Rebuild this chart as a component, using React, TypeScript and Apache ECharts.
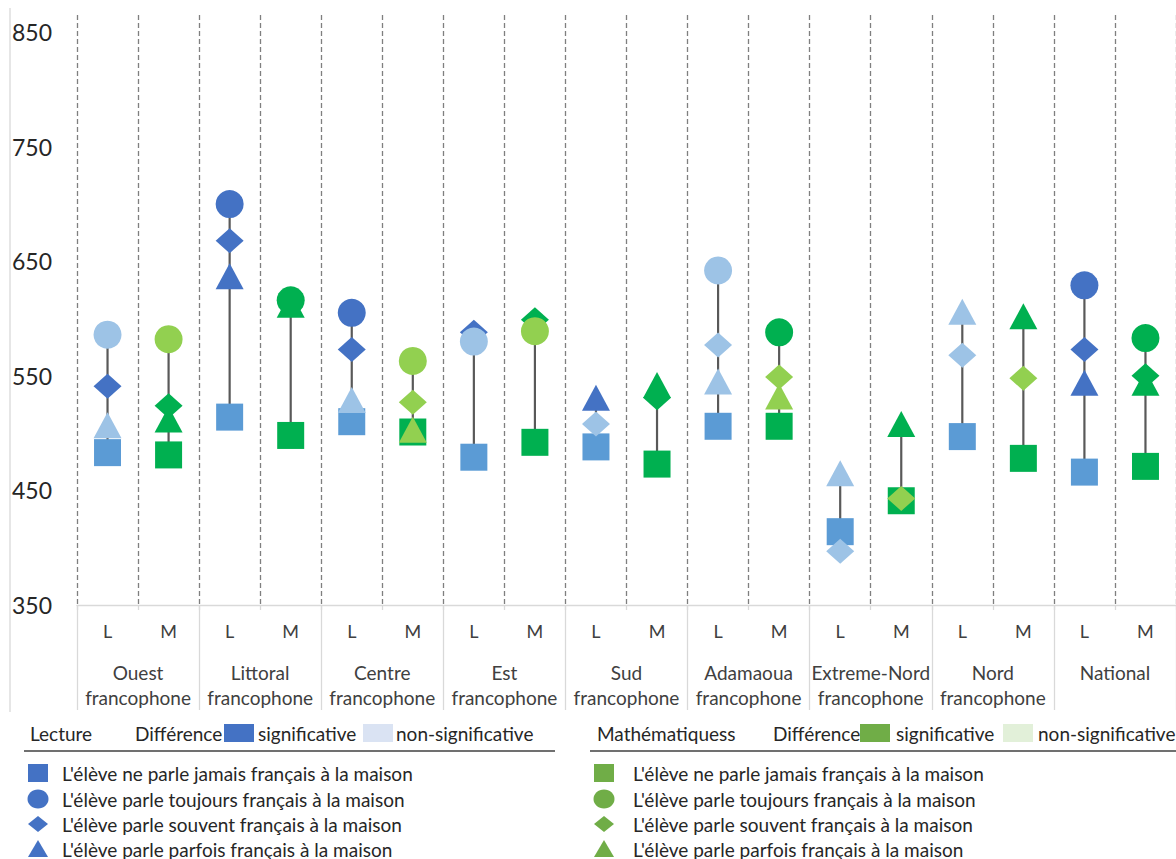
import React, { useEffect, useRef } from "react";
import * as echarts from "echarts";

// ---- data ----
const categories = ["L", "M", "L", "M", "L", "M", "L", "M", "L", "M", "L", "M", "L", "M", "L", "M", "L", "M"];
const regions = [
  "Ouest\nfrancophone",
  "Littoral\nfrancophone",
  "Centre\nfrancophone",
  "Est\nfrancophone",
  "Sud\nfrancophone",
  "Adamaoua\nfrancophone",
  "Extreme-Nord\nfrancophone",
  "Nord\nfrancophone",
  "National",
];
const yMin = 350;
const yInterval = 100;

// L'élève ne parle jamais français à la maison (reference group, square)
const jamais = [483, 481, 514, 498, 510, 501, 479, 492, 488, 473, 506, 506, 414, 441, 497, 478, 466, 471];
// L'élève parle toujours français à la maison (circle)
const toujours = [586, 582, 700, 616, 605, 563, 580, 589, null, null, 642, 588, null, null, null, null, 629, 583];
const toujoursSig = [false, false, true, true, true, false, false, false, null, null, false, true, null, null, null, null, true, true];
// L'élève parle souvent français à la maison (diamond)
const souvent = [541, 524, 668, null, 573, 527, 588, 599, 508, 531, 577, 549, 397, 443, 568, 548, 573, 550];
const souventSig = [true, true, true, null, true, false, true, true, false, true, false, false, false, false, false, false, true, true];
// L'élève parle parfois français à la maison (triangle)
const parfois = [507, 512, 637, 612, 529, 503, null, null, 531, 542, 545, 532, 465, 508, 606, 602, 544, 544];
const parfoisSig = [false, true, true, true, false, false, null, null, true, true, false, false, false, true, false, true, true, true];

const legendLabels = [
  "L'élève ne parle jamais français à la maison",
  "L'élève parle toujours français à la maison",
  "L'élève parle souvent français à la maison",
  "L'élève parle parfois français à la maison",
];

// ---- colours ----
const LECT_REF = "#5B9BD5";
const LECT_SIG = "#4472C4";
const LECT_NS = "#9DC3E6";
const MATH_REF = "#00B050";
const MATH_SIG = "#00B050";
const MATH_NS = "#92D050";
const FONT = "Lato";

function colorFor(i: number, sig: boolean | null) {
  const isL = i % 2 === 0;
  if (isL) return sig ? LECT_SIG : LECT_NS;
  return sig ? MATH_SIG : MATH_NS;
}

function buildScatter(values: (number | null)[], sig: (boolean | null)[] | null) {
  const out: any[] = [];
  values.forEach((v, i) => {
    if (v == null) return;
    const color = sig ? colorFor(i, sig[i]) : i % 2 === 0 ? LECT_REF : MATH_REF;
    out.push({ value: [i, v], itemStyle: { color, opacity: 1 } });
  });
  return out;
}

function legendBlock(x0: number, title: string, sigColor: string, nsColor: string, symColor: string, offs: any) {
  const els: any[] = [];
  const hy = 733;
  const txt = (x: number, y: number, t: string) => ({
    type: "text",
    x,
    y,
    style: { text: t, fontSize: 19, fontFamily: FONT, fill: "#262626", verticalAlign: "middle" },
  });
  els.push(txt(x0 + offs.title, hy, title));
  els.push(txt(x0 + offs.diff, hy, "Différence"));
  els.push({ type: "rect", shape: { x: x0 + offs.box1, y: hy - 9, width: 30, height: 18 }, style: { fill: sigColor } });
  els.push(txt(x0 + offs.sig, hy, "significative"));
  els.push({ type: "rect", shape: { x: x0 + offs.box2, y: hy - 9, width: 30, height: 18 }, style: { fill: nsColor } });
  els.push(txt(x0 + offs.ns, hy, "non-significative"));
  els.push({
    type: "line",
    shape: { x1: x0 + offs.lineStart, y1: 751, x2: x0 + offs.lineEnd, y2: 751 },
    style: { stroke: "#404040", lineWidth: 1.5 },
  });
  const rows = [773, 799, 824, 849];
  const sx = x0 + offs.sym;
  // square
  els.push({ type: "rect", shape: { x: sx - 10, y: rows[0] - 9, width: 20, height: 18 }, style: { fill: symColor } });
  // circle
  els.push({ type: "ellipse", shape: { cx: sx, cy: rows[1], rx: 10.5, ry: 9.5 }, style: { fill: symColor } });
  // diamond
  els.push({
    type: "polygon",
    shape: { points: [[sx, rows[2] - 8], [sx + 10, rows[2]], [sx, rows[2] + 8], [sx - 10, rows[2]]] },
    style: { fill: symColor },
  });
  // triangle
  els.push({
    type: "polygon",
    shape: { points: [[sx, rows[3] - 9], [sx + 10, rows[3] + 8], [sx - 10, rows[3] + 8]] },
    style: { fill: symColor },
  });
  legendLabels.forEach((t, k) => els.push(txt(x0 + offs.text, rows[k], t)));
  return els;
}

export default function App() {
  const ref = useRef<HTMLDivElement>(null);
  useEffect(() => {
    document.body.style.margin = "0";
    const chart = echarts.init(ref.current!, null, { renderer: "svg" });

    const ranges = categories.map((_, i) => {
      const vals = [jamais[i], toujours[i], souvent[i], parfois[i]].filter((v) => v != null) as number[];
      return [i, Math.min(...vals), Math.max(...vals)];
    });

    const option: any = {
      animation: false,
      backgroundColor: "#ffffff",
      grid: { left: 77, top: 15, width: 1102, height: 590, containLabel: false },
      xAxis: [
        {
          type: "category",
          data: categories,
          boundaryGap: true,
          position: "bottom",
          axisLine: { show: true, lineStyle: { color: "#d9d9d9", width: 1.3 } },
          axisTick: { show: true, interval: 0, length: 5, lineStyle: { color: "#d9d9d9", width: 1.3 } },
          axisLabel: { interval: 0, margin: 17, fontSize: 18, fontFamily: FONT, color: "#404040" },
          splitLine: { show: true, interval: 0, lineStyle: { color: "#7f7f7f", type: [5, 3], width: 1.3 } },
        },
        {
          type: "category",
          data: regions,
          boundaryGap: true,
          position: "bottom",
          axisLine: { show: false },
          axisTick: { show: true, interval: 0, length: 105, lineStyle: { color: "#d9d9d9", width: 1.3 } },
          axisLabel: { interval: 0, margin: 55, fontSize: 19, lineHeight: 25, fontFamily: FONT, color: "#404040" },
          splitLine: { show: false },
        },
      ],
      yAxis: {
        type: "value",
        min: yMin,
        max: 865,
        interval: yInterval,
        axisLine: { show: false },
        axisTick: { show: false },
        splitLine: { show: false },
        axisLabel: { align: "left", margin: 65, fontSize: 23, fontFamily: FONT, color: "#262626", showMaxLabel: false },
      },
      series: [
        {
          type: "custom",
          xAxisIndex: 0,
          data: ranges,
          encode: { x: 0, y: [1, 2] },
          z: 1,
          renderItem: (params: any, api: any) => {
            const x = api.value(0);
            const p1 = api.coord([x, api.value(1)]);
            const p2 = api.coord([x, api.value(2)]);
            return {
              type: "line",
              shape: { x1: p1[0], y1: p1[1], x2: p2[0], y2: p2[1] },
              style: { stroke: "#595959", lineWidth: 2.2 },
            };
          },
        },
        { type: "scatter", name: legendLabels[0], symbol: "rect", symbolSize: [27, 27], itemStyle: { opacity: 1 }, data: buildScatter(jamais, null), z: 2 },
        { type: "scatter", name: legendLabels[3], symbol: "triangle", symbolSize: [28, 26], itemStyle: { opacity: 1 }, data: buildScatter(parfois, parfoisSig), z: 3 },
        { type: "scatter", name: legendLabels[2], symbol: "diamond", symbolSize: [28, 25], itemStyle: { opacity: 1 }, data: buildScatter(souvent, souventSig), z: 4 },
        { type: "scatter", name: legendLabels[1], symbol: "circle", symbolSize: 28, itemStyle: { opacity: 1 }, data: buildScatter(toujours, toujoursSig), z: 5 },
      ],
      graphic: [
        { type: "line", shape: { x1: 10, y1: 8, x2: 10, y2: 712 }, style: { stroke: "#d9d9d9", lineWidth: 1.3 } },
        ...legendBlock(0, "Lecture", "#4472C4", "#DAE3F3", "#4472C4", {
          title: 30, diff: 135, box1: 224, sig: 258, box2: 363, ns: 396, lineStart: 24, lineEnd: 555, sym: 38, text: 62,
        }),
        ...legendBlock(590, "Mathématiquess", "#70AD47", "#E2F0D9", "#70AD47", {
          title: 7, diff: 183, box1: 270, sig: 306, box2: 413, ns: 448, lineStart: 0, lineEnd: 590, sym: 14, text: 43,
        }),
      ],
    };
    chart.setOption(option);
    return () => chart.dispose();
  }, []);
  return <div ref={ref} style={{ width: 1176, height: 859 }} />;
}
